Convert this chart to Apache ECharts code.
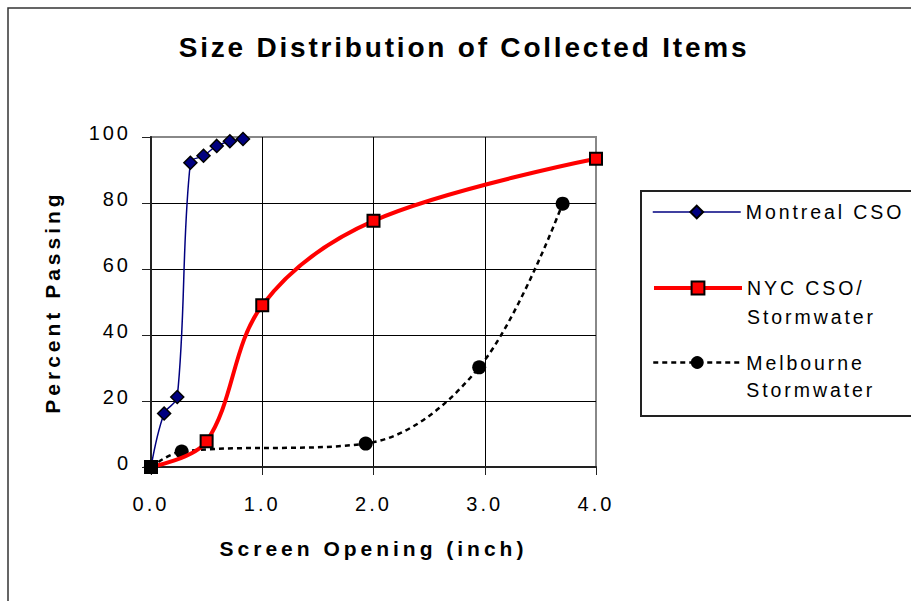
<!DOCTYPE html>
<html>
<head>
<meta charset="utf-8">
<script src="https://cdn.jsdelivr.net/npm/echarts@6/dist/echarts.min.js"></script>
<style>
  html, body { margin: 0; padding: 0; background: #fff; }
  #chart { width: 911px; height: 601px; }
  /* wide tracking on every label, a little tighter on the big title */
  #chart text { letter-spacing: 0.15em; }
  #chart text.title-text { letter-spacing: 0.1em; }
  #chart text.axis-name { letter-spacing: 0.19em; }
</style>
</head>
<body>
<div id="chart"></div>
<script>
// Screen opening (inch) and cumulative percent passing for each source
const montrealX = [0, 0.118, 0.236, 0.354, 0.472, 0.591, 0.709, 0.827];
const montrealY = [0, 16.2, 21.2, 92.2, 94.3, 97.3, 98.7, 99.4];

const nycX = [0, 0.5, 1.0, 2.0, 4.0];
const nycY = [0, 7.8, 49, 74.6, 93.4];

const melbourneX = [0, 0.276, 1.93, 2.95, 3.70];
const melbourneY = [0, 4.7, 7.1, 30.2, 79.8];

const xTicks = [0, 1, 2, 3, 4];
const yTicks = [0, 20, 40, 60, 80, 100];

const seriesNames = ['Montreal CSO', 'NYC CSO/\nStormwater', 'Melbourne\nStormwater'];
const titleText = 'Size Distribution of Collected Items';
const xName = 'Screen Opening (inch)';
const yName = 'Percent Passing';

const FONT = "'Liberation Sans', Arial, sans-serif";

function pairs(xs, ys) {
  return xs.map((x, i) => [x, ys[i]]);
}

const nycData = pairs(nycX, nycY).map((p, i) =>
  i === 0 ? { value: p, itemStyle: { color: '#000000' } } : p
);

const chart = echarts.init(document.getElementById('chart'), null, { renderer: 'svg' });

// One legend block per series; two-line names get an empty leading line so the
// first line of text sits level with the key symbol.
function legendAt(name, top, lineHeight) {
  return {
    data: [name],
    orient: 'vertical',
    left: 652,
    top: top,
    padding: 0,
    itemWidth: 88,
    itemHeight: 16,
    selectedMode: false,
    lineStyle: { width: 'inherit' },
    formatter: n => (n.indexOf('\n') >= 0 ? '\n' + n : n),
    textStyle: {
      fontFamily: FONT,
      fontSize: 19.5,
      color: '#000',
      lineHeight: lineHeight
    }
  };
}

const option = {
  animation: false,
  backgroundColor: '#ffffff',
  textStyle: { fontFamily: FONT },
  title: {
    text: titleText,
    left: 464,
    top: 33,
    padding: 0,
    textAlign: 'center',
    textStyle: { fontFamily: FONT, fontSize: 28, fontWeight: 'bold', color: '#000' }
  },
  legend: [
    legendAt(seriesNames[0], 198, 28),
    legendAt(seriesNames[1], 244.5, 29),
    legendAt(seriesNames[2], 322, 27)
  ],
  graphic: [
    {
      type: 'rect',
      silent: true,
      z: -10,
      shape: { x: 8, y: 8, width: 1000, height: 1000 },
      style: { fill: 'none', stroke: '#333', lineWidth: 1.5 }
    },
    {
      type: 'rect',
      silent: true,
      shape: { x: 641, y: 191, width: 400, height: 225 },
      style: { fill: 'none', stroke: '#222', lineWidth: 2 }
    }
  ],
  grid: {
    left: 151,
    right: 315,
    top: 137,
    bottom: 134,
    show: true,
    borderColor: '#888',
    borderWidth: 2,
    backgroundColor: 'transparent'
  },
  xAxis: {
    type: 'value',
    min: xTicks[0],
    max: xTicks[xTicks.length - 1],
    interval: 1,
    name: xName,
    nameLocation: 'middle',
    nameGap: 71,
    nameTextStyle: { fontFamily: FONT, fontSize: 21, fontWeight: 'bold', color: '#000' },
    axisLine: { lineStyle: { color: '#222', width: 2 } },
    axisTick: { show: true, length: 8, lineStyle: { color: '#222', width: 1 } },
    axisLabel: {
      fontFamily: FONT,
      fontSize: 20,
      color: '#000',
      margin: 27,
      formatter: v => v.toFixed(1)
    },
    splitLine: {
      show: true,
      lineStyle: { color: ['#000', '#000', '#000', '#000', '#888'], width: 1 }
    }
  },
  yAxis: {
    type: 'value',
    min: yTicks[0],
    max: yTicks[yTicks.length - 1],
    interval: 20,
    name: yName,
    nameLocation: 'middle',
    nameGap: 88,
    nameRotate: 90,
    nameTextStyle: { fontFamily: FONT, fontSize: 21, fontWeight: 'bold', color: '#000' },
    axisLine: { show: true, lineStyle: { color: '#222', width: 2 } },
    axisTick: { show: true, length: 9, lineStyle: { color: '#222', width: 1 } },
    axisLabel: {
      fontFamily: FONT,
      fontSize: 20,
      color: '#000',
      margin: 20,
      verticalAlign: 'bottom',
      lineHeight: 8
    },
    splitLine: {
      show: true,
      lineStyle: { color: ['#000', '#000', '#000', '#000', '#000', '#888'], width: 1 }
    }
  },
  series: [
    {
      name: seriesNames[0],
      type: 'line',
      data: pairs(montrealX, montrealY),
      smooth: 0.35,
      z: 2,
      symbol: 'diamond',
      symbolSize: 13,
      lineStyle: { color: '#000080', width: 1.5 },
      itemStyle: { color: '#000080', borderColor: '#000', borderWidth: 1.5 }
    },
    {
      name: seriesNames[1],
      type: 'line',
      data: nycData,
      smooth: 0.35,
      z: 4,
      symbol: 'rect',
      symbolSize: 12,
      lineStyle: { color: '#ff0000', width: 4 },
      itemStyle: { color: '#ff0000', borderColor: '#000', borderWidth: 2 }
    },
    {
      name: seriesNames[2],
      type: 'line',
      data: pairs(melbourneX, melbourneY),
      smooth: 0.35,
      z: 3,
      symbol: 'circle',
      symbolSize: 14,
      lineStyle: { color: '#000', width: 2.5, type: [5, 4] },
      itemStyle: { color: '#000' }
    }
  ]
};

chart.setOption(option);

// give the title and the axis names their own tracking
document.querySelectorAll('#chart text').forEach(t => {
  const s = t.textContent;
  if (s === titleText) t.classList.add('title-text');
  if (s === xName || s === yName) t.classList.add('axis-name');
});
</script>
</body>
</html>
